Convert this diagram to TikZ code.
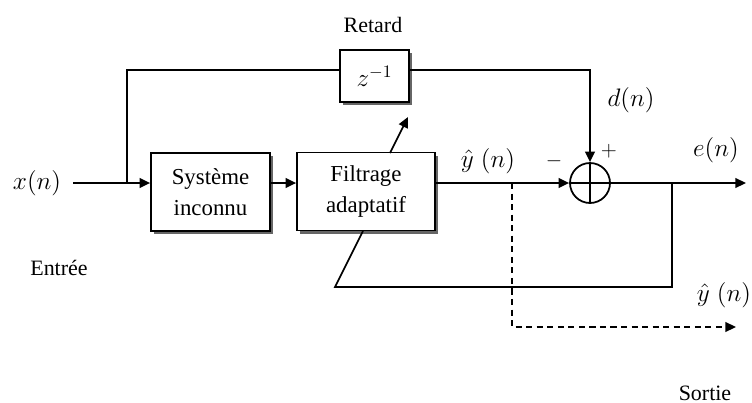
\documentclass[tikz,border=0pt]{standalone}
\usepackage{fontspec}
\setmainfont{Liberation Serif}
\usepackage{tikz}
\usetikzlibrary{arrows.meta}
\usetikzlibrary{shadows}
\usetikzlibrary{positioning}

\tikzset{
  bloc/.style={draw, line width=1pt, fill=white, align=center,
    font=\fontsize{13}{17.5}\selectfont,
    drop shadow={shadow xshift=1.8pt, shadow yshift=-1.8pt, fill=black!60, opacity=1}},
  fleche/.style={line width=1pt, -{Triangle[length=6pt,width=5.5pt]}},
  trait/.style={line width=1pt},
  etiq/.style={font=\fontsize{12.5}{14}\selectfont},
  signal/.style={font=\fontsize{14}{16}\selectfont},
}

\begin{document}
\begin{tikzpicture}[x=0.02cm,y=-0.02cm]
    \useasboundingbox (0,0) rectangle (752,403);

    % Points de branchement
    \coordinate (entree) at (73,183);
    \coordinate (jonc) at (127,183);
    \coordinate (haut) at (127,70);
    \coordinate (branche) at (672,183);
    \coordinate (pied) at (335,287);
    \coordinate (adaptbas) at (363,231);
    \coordinate (adapthaut) at (390,153);
    \coordinate (adapt) at (408,117);
    \coordinate (bifur) at (512,183);
    \coordinate (sortie) at (736,327);
    \coordinate (fin) at (746,183);

    % Blocs
    \node[bloc, minimum width=2.38cm, minimum height=1.56cm] (sys) at (210.5,192) {Système\\inconnu};
    \node[bloc, minimum width=2.76cm, minimum height=1.56cm] (filt) at (366,191.5) {Filtrage\\adaptatif};
    \node[bloc, minimum width=1.38cm, minimum height=1.04cm] (retard) at (374.5,76) {\Large$z^{-1}$};
    \node[draw, circle, line width=1pt, minimum size=0.8cm, inner sep=0pt] (som) at (590,183) {};
    \draw[trait] (som.north) -- (som.south) (som.west) -- (som.east);

    % Textes
    \node[signal] (xn) at (37,183) {$x(n)$};
    \node[etiq] (lretard) at (373,25) {Retard};
    \node[signal] (dn) at (631,100) {$d(n)$};
    \node[signal] (yn) at (488,161) {$\hat{y}\;(n)$};
    \node[signal] (en) at (716,150) {$e(n)$};
    \node[signal] (ys) at (724,295) {$\hat{y}\;(n)$};
    \node[etiq] (moins) at (554,161) {$-$};
    \node[etiq] (plus) at (609,151) {$+$};
    \node[etiq] (lentree) at (59,268) {Entrée};
    \node[etiq] (lsortie) at (705,393) {Sortie};

    % Liaisons
    \draw[fleche] (entree) -- (sys.west |- entree);
    \draw[fleche] (sys.east |- entree) -- (filt.west |- entree);
    \draw[trait] (jonc) -- (haut) -- (haut -| retard.west);
    \draw[fleche] (haut -| retard.east) -| (som.north);
    \draw[fleche] (filt.east |- entree) -- (som.west);
    \draw[fleche] (som.east) -- (fin);
    \draw[fleche, dash pattern=on 3.5pt off 2.5pt] (bifur) |- (sortie);

    % Adaptation
    \draw[trait] (branche) |- (pied) -- (adaptbas);
    \draw[fleche] (adapthaut) -- (adapt);
\end{tikzpicture}
\end{document}
